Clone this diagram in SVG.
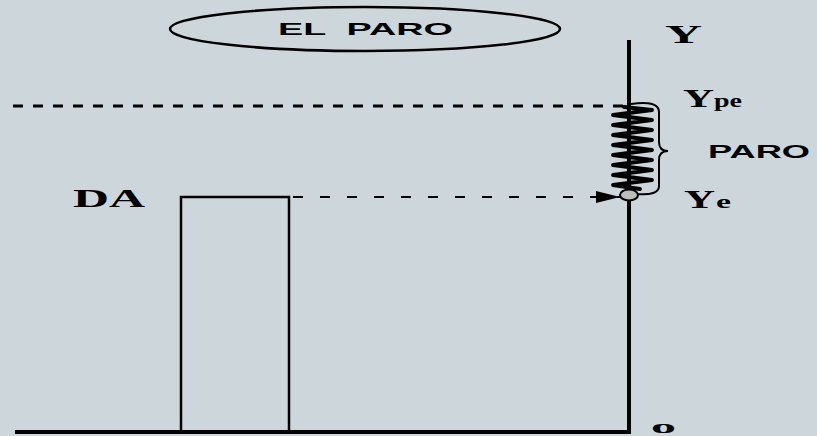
<svg xmlns="http://www.w3.org/2000/svg" width="817" height="436" viewBox="0 0 817 436">
<defs>
<style>
.ln{stroke:#000;fill:none}
.serif{font-family:"Liberation Serif","Times New Roman",serif;font-weight:bold;fill:#000}
.sans{font-family:"Liberation Sans",Arial,sans-serif;font-weight:bold;fill:#000}
</style>
<marker id="ah" markerWidth="12" markerHeight="6" refX="12" refY="3" orient="auto" markerUnits="strokeWidth">
<path d="M0,0 L12,3 L0,6 Z" fill="#000"/>
</marker>
</defs>
<rect width="817" height="436" fill="#cdd7db"/>
<g id="title">
<ellipse cx="365" cy="29" rx="195" ry="22" class="ln" stroke-width="2.5"/>
<text x="278" y="35" class="sans" font-size="17" textLength="175" lengthAdjust="spacingAndGlyphs" xml:space="preserve">EL  PARO</text>
</g>
<g id="axes">
<line x1="629" y1="40" x2="629" y2="433" class="ln" stroke-width="4"/>
<line x1="15" y1="432" x2="631" y2="432" class="ln" stroke-width="4"/>
<text x="665" y="43" class="serif" font-size="25" textLength="37" lengthAdjust="spacingAndGlyphs">Y</text>
<text x="651" y="433" class="serif" font-size="19" textLength="25" lengthAdjust="spacingAndGlyphs">o</text>
</g>
<g id="da">
<path d="M181,432 V197 H289 V432" class="ln" stroke-width="2.5"/>
<text x="73" y="207" class="serif" font-size="25" textLength="72" lengthAdjust="spacingAndGlyphs">DA</text>
</g>
<g id="spring">
<path d="M624,107 L652,110 L613,115 L652,120 L613,125 L652,130 L613,135 L652,140 L613,145 L652,150 L613,155 L652,160 L613,165 L652,170 L613,175 L652,180 L613,185 L640,189" class="ln" stroke-width="3.8" stroke-linejoin="round" stroke-linecap="round"/>
<path d="M631,104 Q659,100 659,112 L659,142 Q659,151 668,151 Q659,151 659,160 L659,186 Q659,196 636,194" class="ln" stroke-width="2"/>
<ellipse cx="629" cy="195" rx="9" ry="5.5" fill="#bdbdbd" stroke="#000" stroke-width="2"/>
<text x="683" y="107" class="serif" font-size="26" textLength="31" lengthAdjust="spacingAndGlyphs">Y</text>
<text x="714" y="107" class="serif" font-size="18" textLength="28" lengthAdjust="spacingAndGlyphs">pe</text>
<text x="684" y="208" class="serif" font-size="26" textLength="31" lengthAdjust="spacingAndGlyphs">Y</text>
<text x="716" y="208" class="serif" font-size="18" textLength="15" lengthAdjust="spacingAndGlyphs">e</text>
<text x="708" y="158" class="sans" font-size="18" textLength="102" lengthAdjust="spacingAndGlyphs">PARO</text>
</g>
<g id="connectors">
<line x1="13" y1="106" x2="625" y2="106" class="ln" stroke-width="3" stroke-dasharray="10,10"/>
<line x1="293" y1="197" x2="620" y2="197" class="ln" stroke-width="2" stroke-dasharray="10,17" marker-end="url(#ah)"/>
</g>
</svg>
